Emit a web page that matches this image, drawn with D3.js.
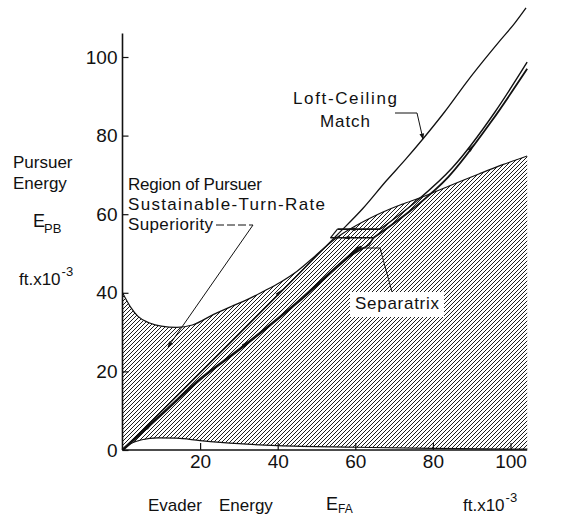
<!DOCTYPE html>
<html>
<head>
<meta charset="utf-8">
<script src="https://cdn.jsdelivr.net/npm/d3@7"></script>
<style>
  html, body { margin: 0; padding: 0; background: #fff; }
  svg text { font-family: "Liberation Sans", Arial, sans-serif; fill: #111; }
</style>
</head>
<body>
<svg id="chart" width="576" height="517"></svg>
<script>
// Tick values (thousands of ft)
const xTicks = [20, 40, 60, 80, 100];
const yTicks = [0, 20, 40, 60, 80, 100];

// Upper edge of the hatched region (pursuer sustainable-turn-rate superiority)
const upperE  = [0, 2, 4, 7, 10, 14, 18, 23.5, 28, 32, 36, 40.7, 45, 49, 53, 56, 60, 63, 67, 72, 77, 84.5, 92, 98, 104.3];
const upperEP = [40, 36.5, 34, 32.3, 31.5, 31.2, 31.8, 34.5, 36.5, 38.2, 40.2, 42.7, 45.5, 48.8, 52.3, 54.6, 57, 58.6, 60.5, 62.5, 64.3, 67.3, 70.3, 72.6, 74.8];

// Lower edge of the hatched region
const lowerE  = [0, 2, 5, 9, 14, 20, 30, 40, 60, 80, 104.3];
const lowerEP = [0, 1.5, 2.6, 3.1, 3.0, 2.4, 1.6, 1.1, 0.7, 0.4, 0.2];

// Loft-ceiling match curve
const loftE  = [0, 55, 62, 68, 73, 77.3, 83, 89, 93, 97.4, 101, 104];
const loftEP = [0, 54.4, 61.5, 68.5, 74, 79, 86, 94, 99, 104.3, 108.5, 112.5];

// Separatrix, lower branch from the origin
const sepLowE  = [0, 10, 20, 30, 45, 58, 61];
const sepLowEP = [0, 9, 18, 25.5, 37.5, 49, 51.5];

// Separatrix branches running to the upper right
const sepAE  = [64.7, 75, 84, 95, 104.3];
const sepAEP = [54, 61.5, 69.5, 83.5, 97];
const sepBE  = [66.4, 76, 85, 96, 104.3];
const sepBEP = [56.2, 63.5, 71.8, 86, 98.7];

// Short horizontal segments of the switching loop
const loopTopE  = [55.4, 66.4];
const loopTopEP = [56.2, 56.2];
const loopBotE  = [53.6, 64.7];
const loopBotEP = [54, 54];

const svg = d3.select("#chart");

const x = d3.scaleLinear().domain([0, 100]).range([122.5, 510.5]);
const y = d3.scaleLinear().domain([0, 100]).range([450, 57]);

const zip = (a, b) => a.map((v, i) => [v, b[i]]);
const line = d3.line().x(d => x(d[0])).y(d => y(d[1])).curve(d3.curveMonotoneX);
const lineLin = d3.line().x(d => x(d[0])).y(d => y(d[1]));
const ink = "#111";

// Hatch pattern
const defs = svg.append("defs");
const pat = defs.append("pattern")
  .attr("id", "hatch").attr("patternUnits", "userSpaceOnUse")
  .attr("width", 4).attr("height", 4);
pat.append("path")
  .attr("d", "M-1,1 l2,-2 M0,4 l4,-4 M3,5 l2,-2")
  .attr("stroke", ink).attr("stroke-width", 0.95);

defs.append("marker")
  .attr("id", "arrow").attr("viewBox", "0 0 10 10")
  .attr("refX", 9).attr("refY", 5)
  .attr("markerWidth", 9).attr("markerHeight", 6)
  .attr("markerUnits", "userSpaceOnUse")
  .attr("orient", "auto")
  .append("path").attr("d", "M0,1 L10,5 L0,9 Z").attr("fill", ink);

// Hatched region
const upperPts = zip(upperE, upperEP);
const lowerPts = zip(lowerE, lowerEP);
const area = d3.area()
  .x(d => x(d[0])).y0(d => y(d[2])).y1(d => y(d[1]))
  .curve(d3.curveMonotoneX);
const lowerInterp = e => {
  for (let i = 1; i < lowerE.length; i++) {
    if (e <= lowerE[i]) {
      const k = (e - lowerE[i - 1]) / (lowerE[i] - lowerE[i - 1]);
      return lowerEP[i - 1] + k * (lowerEP[i] - lowerEP[i - 1]);
    }
  }
  return lowerEP[lowerEP.length - 1];
};
const areaPts = upperPts.map(d => [d[0], d[1], lowerInterp(d[0])]);
svg.append("path").attr("d", area(areaPts)).attr("fill", "url(#hatch)");

// Region edges
const stroke = (d, w) => svg.append("path").attr("d", d)
  .attr("fill", "none").attr("stroke", ink).attr("stroke-width", w);
stroke(line(upperPts), 1.2);
stroke(line(lowerPts), 1.2);

// Loft-ceiling curve
stroke(line(zip(loftE, loftEP)), 1.3);

// Separatrix and loop
stroke(line(zip(sepLowE, sepLowEP)), 2.6);
stroke(lineLin([[58, 49], [63.5, 52.2], [64.7, 54]]), 1.6);
stroke(line(zip(sepAE, sepAEP)), 1.8);
stroke(line(zip(sepBE, sepBEP)), 1.4);
stroke(lineLin(zip(loopTopE, loopTopEP)), 1.6);
stroke(lineLin(zip(loopBotE, loopBotEP)), 1.6);
stroke(lineLin([[loopTopE[0], loopTopEP[0]], [loopBotE[0], loopBotEP[0]]]), 1.2);

// Direction arrowheads along the trajectories
const arrowAt = (e, ep, dirE, dirEP, len, wid) => {
  const px = x(e), py = y(ep);
  const dx = x(e + dirE) - px, dy = y(ep + dirEP) - py;
  const a = Math.atan2(dy, dx) * 180 / Math.PI;
  svg.append("path")
    .attr("d", `M${len / 2},0 L${-len / 2},${-wid / 2} L${-len / 2},${wid / 2} Z`)
    .attr("transform", `translate(${px},${py}) rotate(${a})`)
    .attr("fill", ink);
};
arrowAt(7, 6.3, 1, 0.9, 9, 4);
arrowAt(32, 27.2, 1, 0.8, 9, 4);
arrowAt(40.5, 40.2, 1, 1, 8, 3.5);
arrowAt(59, 56.2, -1, 0, 8, 3.5);
arrowAt(57.5, 54, -1, 0, 8, 3.5);
arrowAt(90, 77, 1, 1.3, 8, 3.5);

// Axes
const gx = svg.append("g").attr("transform", `translate(0,${y(0)})`)
  .call(d3.axisBottom(x).tickValues(xTicks).tickSize(-7).tickPadding(8).tickFormat(d3.format("d")));
gx.select(".domain").attr("d", `M${x(0)},0H${x(104.3)}`);
const gy = svg.append("g").attr("transform", `translate(${x(0)},0)`)
  .call(d3.axisLeft(y).tickValues(yTicks).tickSize(-6).tickPadding(4).tickFormat(d3.format("d")));
gy.select(".domain").attr("d", `M0,${y(0)}V${y(106)}`);
svg.selectAll(".domain").attr("stroke", ink).attr("stroke-width", 1.6);
svg.selectAll(".tick line").attr("stroke", ink).attr("stroke-width", 1.2);
svg.selectAll(".tick text").style("font-size", "19px").attr("fill", ink);
gx.selectAll(".tick text").attr("dy", "0.55em");
gy.selectAll(".tick text").attr("dx", "-1px");

// Text helpers
const t = (s, xx, yy, size, len) => {
  const el = svg.append("text").attr("x", xx).attr("y", yy)
    .style("font-size", (size || 17) + "px").text(s);
  if (len) el.attr("textLength", len).attr("lengthAdjust", "spacing");
  return el;
};
const withSup = (base, sup, xx, yy) => {
  const el = svg.append("text").attr("x", xx).attr("y", yy).style("font-size", "17px");
  el.append("tspan").text(base);
  el.append("tspan").attr("dy", -9).attr("dx", 1).style("font-size", "13px").text(sup);
  return el;
};

// Axis titles
t("Pursuer", 13, 168);
t("Energy", 13, 189);
t("E", 33, 227, 18);
t("PB", 44, 233, 13);
withSup("ft.x10", "-3", 19, 285);

t("Evader", 148, 511);
t("Energy", 219, 511);
t("E", 326, 510, 18);
t("FA", 338, 513, 12);
withSup("ft.x10", "-3", 463, 511);

// Annotations
t("Region of Pursuer", 128, 190, 17, 134);
t("Sustainable-Turn-Rate", 128, 210, 17, 197);
t("Superiority", 128, 230, 17, 85);
svg.append("path").attr("d", "M216,225 H253")
  .attr("stroke", ink).attr("stroke-width", 1).attr("stroke-dasharray", "8,3").attr("fill", "none");
svg.append("path").attr("d", "M253,225 L168,347")
  .attr("stroke", ink).attr("stroke-width", 1).attr("fill", "none")
  .attr("marker-end", "url(#arrow)");

t("Loft-Ceiling", 293, 104, 17, 104);
t("Match", 320, 127, 17, 50);
svg.append("path").attr("d", "M395,113 H417 L423,139")
  .attr("stroke", ink).attr("stroke-width", 1).attr("fill", "none")
  .attr("marker-end", "url(#arrow)");

svg.append("rect").attr("x", 350).attr("y", 292).attr("width", 94).attr("height", 25).attr("fill", "#fff");
t("Separatrix", 355, 309, 17, 84);
svg.append("path").attr("d", "M392,292 L380,248 H356")
  .attr("stroke", ink).attr("stroke-width", 1).attr("fill", "none")
  .attr("marker-end", "url(#arrow)");
</script>
</body>
</html>
